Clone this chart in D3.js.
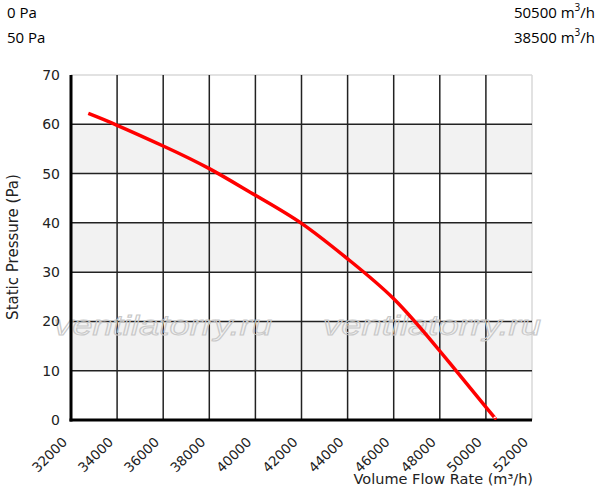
<!DOCTYPE html>
<html><head><meta charset="utf-8">
<script src="https://cdn.jsdelivr.net/npm/d3@7"></script>
<style>body{margin:0;background:#fff}svg{display:block}</style>
</head><body>
<svg id="c" width="597" height="492"></svg>
<script>
const flow = [32750, 34000, 36000, 38000, 40000, 42000, 44000, 46000, 48000, 50000, 50400];
const pressure = [62.2, 59.8, 55.6, 51.0, 45.6, 39.9, 32.7, 24.6, 14.0, 2.6, 0.4];
const xTicks = [32000,34000,36000,38000,40000,42000,44000,46000,48000,50000,52000];
const yTicks = [0,10,20,30,40,50,60,70];
const bands = [[50,60],[30,40],[10,20]];
const infoLeft = ["0 Pa", "50 Pa"];
const infoRight = ["50500", "38500"];

const svg = d3.select("#c");
const x = d3.scaleLinear().domain([32000,52000]).range([71,532]);
const y = d3.scaleLinear().domain([0,70]).range([420,75]);
const font = "'DejaVu Sans', sans-serif";

// bands
svg.selectAll("rect.band").data(bands).enter().append("rect")
  .attr("x", x(32000)).attr("width", x(52000)-x(32000))
  .attr("y", d=>y(d[1])).attr("height", d=>y(d[0])-y(d[1]))
  .attr("fill", "#f2f2f2");
// border top/right
svg.append("line").attr("x1",x(32000)).attr("x2",x(52000)).attr("y1",y(70)).attr("y2",y(70)).attr("stroke","#d9d9d9").attr("stroke-width",1.5);
svg.append("line").attr("x1",x(52000)).attr("x2",x(52000)).attr("y1",y(70)).attr("y2",y(0)).attr("stroke","#d9d9d9").attr("stroke-width",1.5);

// grid
svg.selectAll("line.vg").data(xTicks.slice(1,-1)).enter().append("line")
  .attr("x1",d=>x(d)).attr("x2",d=>x(d)).attr("y1",y(70)).attr("y2",y(0))
  .attr("stroke","#222").attr("stroke-width",1.5);
svg.selectAll("line.hg").data(yTicks.slice(1,-1)).enter().append("line")
  .attr("x1",x(32000)).attr("x2",x(52000)).attr("y1",d=>y(d)).attr("y2",d=>y(d))
  .attr("stroke","#222").attr("stroke-width",1.5);

// watermark
["ventilatorry.ru","ventilatorry.ru"].forEach((t,i)=>{
  svg.append("text").attr("x", i===0?54:323).attr("y",335).text(t)
    .attr("textLength",218).attr("lengthAdjust","spacingAndGlyphs")
    .attr("font-family","'Liberation Sans', Arial, sans-serif").attr("font-style","italic")
    .attr("font-size",28).attr("fill","none").attr("stroke","#c8c8c8").attr("stroke-width",1);
});

// axes
svg.append("line").attr("x1",x(32000)).attr("x2",x(32000)).attr("y1",y(70)).attr("y2",y(0)+1.5).attr("stroke","#000").attr("stroke-width",3);
svg.append("line").attr("x1",x(32000)-1.5).attr("x2",x(52000)).attr("y1",y(0)).attr("y2",y(0)).attr("stroke","#000").attr("stroke-width",3);

// y tick labels
svg.selectAll("text.yt").data(yTicks).enter().append("text")
  .attr("x",60).attr("y",d=>y(d)+5).attr("text-anchor","end")
  .attr("font-family",font).attr("font-size",14).attr("fill","#222").text(d=>d);
// x tick labels
svg.selectAll("text.xt").data(xTicks).enter().append("text")
  .attr("transform",d=>`translate(${x(d)-3},${443}) rotate(-45)`)
  .attr("text-anchor","end")
  .attr("font-family",font).attr("font-size",13.5).attr("fill","#222").text(d=>d);

// axis titles
svg.append("text").attr("transform","translate(18,247) rotate(-90)").attr("text-anchor","middle")
  .attr("font-family",font).attr("font-size",15).attr("fill","#222").text("Static Pressure (Pa)");
svg.append("text").attr("x",533).attr("y",484).attr("text-anchor","end")
  .attr("font-family",font).attr("font-size",14.5).attr("fill","#222").text("Volume Flow Rate (m³/h)");

// curve
const line = d3.line().x(d=>x(d[0])).y(d=>y(d[1])).curve(d3.curveNatural);
svg.append("path").datum(flow.map((f,i)=>[f,pressure[i]])).attr("d",line)
  .attr("fill","none").attr("stroke","#ff0000").attr("stroke-width",3.5);

// info
const ifont = "'Open Sans', 'Liberation Sans', sans-serif";
infoLeft.forEach((t,i)=>{
  svg.append("text").attr("x",7).attr("y",18+i*25).attr("font-family",ifont).attr("font-size",15).attr("fill","#000").text(t);
});
infoRight.forEach((t,i)=>{
  const tx = svg.append("text").attr("x",595).attr("y",18+i*25).attr("text-anchor","end")
    .attr("font-family",ifont).attr("font-size",15).attr("fill","#000");
  tx.append("tspan").text(t+" m");
  tx.append("tspan").attr("dy",-7).attr("font-size",10).text("3");
  tx.append("tspan").attr("dy",7).text("/h");
});
</script>
</body></html>
